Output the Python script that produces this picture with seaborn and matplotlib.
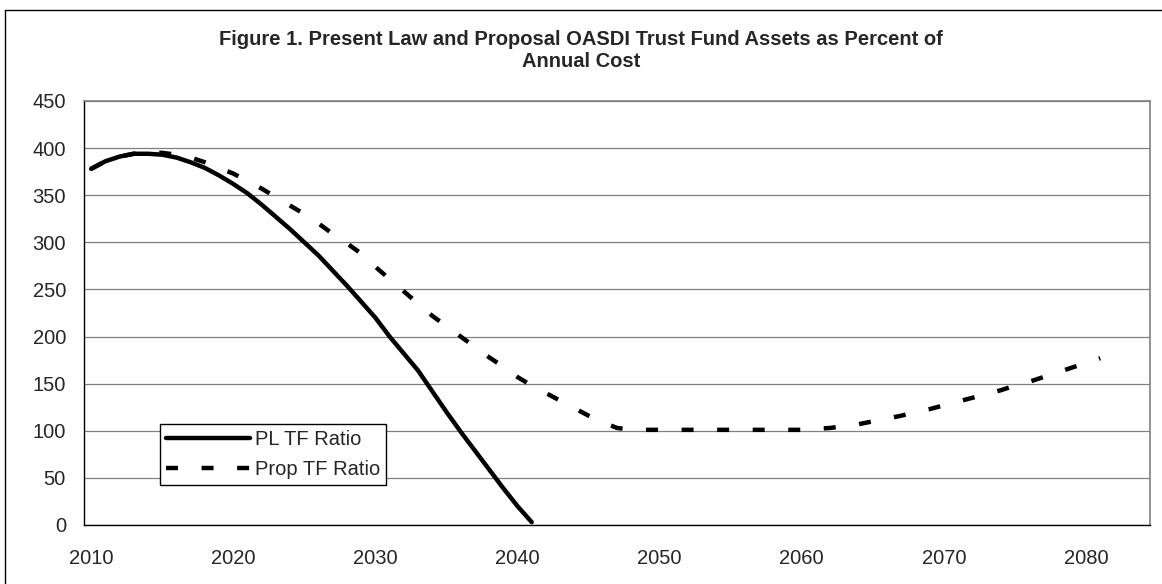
import numpy as np
import pandas as pd
import seaborn as sns
import matplotlib.pyplot as plt
from matplotlib.lines import Line2D

# data (percent of annual cost)
pl_years = list(range(2010, 2042))
pl_ratio = [378, 386, 391, 394, 394, 393, 390, 385, 379, 371,
            362, 352, 340, 327, 314, 300, 286, 270, 254, 237,
            220, 200, 182, 164, 142, 120, 99, 79, 59, 39,
            20, 3]

prop_years = list(range(2010, 2082))
prop_ratio = [378, 386, 391, 394, 395, 395, 393, 390, 385, 379,
              373, 365, 357, 348, 339, 330, 320, 309, 299, 288,
              274, 261, 248, 235, 222, 211, 200, 189, 178, 168,
              157, 148, 140, 132, 124, 116, 109, 103, 101, 101,
              101, 101, 101, 101, 101, 101, 101, 101, 101, 101,
              101, 102, 103, 105, 107, 110, 113, 116, 120, 123,
              127, 131, 135, 139, 143, 148, 152, 157, 162, 167,
              172, 177]

y_ticks = list(range(0, 451, 50))
x_labels = list(range(2010, 2081, 10))

sns.set_style('white')
plt.rcParams['font.family'] = ['Liberation Sans', 'DejaVu Sans']

W, H = 1162, 584
fig = plt.figure(figsize=(W / 100, H / 100), dpi=100)
ax = fig.add_axes([84 / W, 1 - 525 / H, (1150 - 84) / W, (525 - 101) / H])

df_pl = pd.DataFrame({'year': pl_years, 'ratio': pl_ratio})
df_prop = pd.DataFrame({'year': prop_years, 'ratio': prop_ratio})

sns.lineplot(data=df_pl, x='year', y='ratio', color='black', lw=3.2,
             label='PL TF Ratio', ax=ax, solid_capstyle='round')
sns.lineplot(data=df_prop, x='year', y='ratio', color='black', lw=3.2,
             linestyle=(0, (2.7, 5.3)), label='Prop TF Ratio', ax=ax)

ax.set_xlim(2009.5, 2084.5)
ax.set_ylim(0, 450)
ax.set_yticks(y_ticks)
ax.set_xticks(x_labels)
ax.set_xticks(np.arange(2009.5, 2085, 1), minor=True)
ax.tick_params(axis='x', which='major', length=0, pad=17, labelsize=14.5)
ax.tick_params(axis='x', which='minor', length=5, width=1, direction='out', color='black')
ax.tick_params(axis='y', length=6, width=1, direction='out', color='black', pad=7, labelsize=14.5)
ax.set_xlabel('')
ax.set_ylabel('')

ax.grid(axis='y', color='#808080', lw=0.9)
ax.set_axisbelow(True)
for side in ['left', 'bottom']:
    ax.spines[side].set_color('black')
    ax.spines[side].set_linewidth(1)
for side in ['top', 'right']:
    ax.spines[side].set_color('#808080')
    ax.spines[side].set_linewidth(1.2)

leg = ax.legend(loc='lower left', bbox_to_anchor=(76 / 1066, 40 / 424), borderaxespad=0,
                fontsize=14.5, handlelength=4.15, handletextpad=0.25, borderpad=0.3,
                labelspacing=0.55, frameon=True, fancybox=False, framealpha=1,
                edgecolor='black')
leg.get_frame().set_linewidth(1)

fig.text(0.5, 1 - 45 / H, 'Figure 1. Present Law and Proposal OASDI Trust Fund Assets as Percent of',
         ha='center', va='baseline', fontsize=14.5, fontweight='bold')
fig.text(0.5, 1 - 67 / H, 'Annual Cost',
         ha='center', va='baseline', fontsize=14.5, fontweight='bold')

# outer chart border (right and bottom edges are cropped off in the original)
fig.add_artist(Line2D([5 / W, 5 / W], [0, 1 - 10 / H], transform=fig.transFigure, color='black', lw=1))
fig.add_artist(Line2D([5 / W, 1], [1 - 10 / H, 1 - 10 / H], transform=fig.transFigure, color='black', lw=1))

fig.savefig('out.png', dpi=100)
